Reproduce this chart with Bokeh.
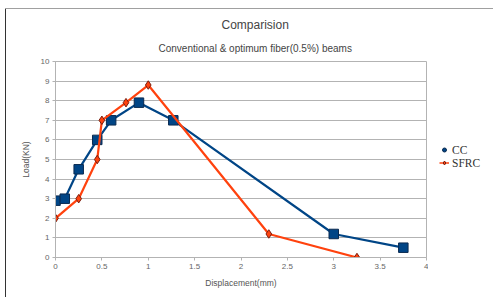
from bokeh.plotting import figure
from bokeh.models import Title, Legend, LegendItem, FixedTicker, Range1d
from bokeh.layouts import row
from bokeh.embed import file_html
from bokeh.resources import INLINE

# ---- data ----
cc_x = [0, 0.1, 0.25, 0.45, 0.6, 0.9, 1.27, 3.0, 3.75]
cc_y = [2.9, 3.0, 4.5, 6.0, 7.0, 7.9, 7.0, 1.2, 0.5]
sfrc_x = [0, 0.25, 0.45, 0.5, 0.76, 1.0, 2.3, 3.25]
sfrc_y = [2.0, 3.0, 5.0, 7.0, 7.9, 8.8, 1.2, 0.0]
x_ticks = [0, 0.5, 1, 1.5, 2, 2.5, 3, 3.5, 4]
x_tick_labels = ["0", "0.5", "1", "1.5", "2", "2.5", "3", "3.5", "4"]
y_ticks = [0, 1, 2, 3, 4, 5, 6, 7, 8, 9, 10]
series_names = ["CC", "SFRC"]
title_text = "Comparision"
subtitle_text = "Conventional & optimum fiber(0.5%) beams"

CC_COL = "#004586"
SF_COL = "#ff420e"
GRID = "#b3b3b3"
TXT = "#666666"
FONT = "Liberation Sans"

main_bg = ("linear-gradient(#a0a0a0,#a0a0a0) 5px 8px / 100% 1px no-repeat, "
           "linear-gradient(#333333,#333333) 5px 8px / 1px 100% no-repeat, white")
side_bg = "linear-gradient(#a0a0a0,#a0a0a0) 0px 8px / 100% 1px no-repeat, white"

p = figure(width=428, height=297, output_backend="svg", toolbar_location=None,
           x_range=Range1d(0, 4), y_range=Range1d(0, 10),
           min_border_left=55, min_border_right=2, min_border_top=61, min_border_bottom=40,
           background_fill_color="white", border_fill_alpha=0,
           styles={"background": main_bg})
p.title = None

p.outline_line_color = GRID
p.xgrid.visible = False
p.ygrid.grid_line_color = GRID
p.ygrid.grid_line_width = 1

for ax in (p.xaxis[0], p.yaxis[0]):
    ax.axis_line_color = GRID
    ax.major_tick_line_color = GRID
    ax.minor_tick_line_color = None
    ax.major_tick_in = 0
    ax.major_tick_out = 3
    ax.major_label_text_font = FONT
    ax.major_label_text_font_size = "8px"
    ax.major_label_text_color = TXT
    ax.axis_label_text_font = FONT
    ax.axis_label_text_font_size = "8.5px"
    ax.axis_label_text_font_style = "normal"
    ax.axis_label_text_color = "#555555"
    ax.major_label_standoff = 3

p.xaxis[0].ticker = FixedTicker(ticks=x_ticks)
p.xaxis[0].major_label_overrides = {t: l for t, l in zip(x_ticks, x_tick_labels)}
p.xaxis[0].axis_label = "Displacement(mm)"
p.xaxis[0].axis_label_standoff = 6
p.yaxis[0].ticker = FixedTicker(ticks=y_ticks)
p.yaxis[0].axis_label = "Load(KN)"
p.yaxis[0].axis_label_standoff = 7

# series
p.line(cc_x, cc_y, line_color=CC_COL, line_width=2.2)
p.scatter(cc_x, cc_y, marker="square", size=9.5, fill_color=CC_COL, line_color="#0a2a50", line_width=1)
p.line(sfrc_x, sfrc_y, line_color=SF_COL, line_width=2.2)
p.scatter(sfrc_x, sfrc_y, marker="diamond", size=8.5, fill_color=SF_COL, line_color="#7a1e0e", line_width=1)

p.add_layout(Title(text=subtitle_text, align="left", offset=103, standoff=15,
                   text_font=FONT, text_font_size="10px", text_font_style="normal",
                   text_color="#444444"), "above")
p.add_layout(Title(text=title_text, align="left", offset=166, standoff=4,
                   text_font=FONT, text_font_size="12px", text_font_style="normal",
                   text_color="#444444"), "above")

# ---- legend panel (series drawn off-view; only their legend glyphs show) ----
q = figure(width=65, height=297, output_backend="svg", toolbar_location=None,
           x_axis_location=None, y_axis_location=None,
           x_range=Range1d(-20, -19), y_range=Range1d(-20, -19),
           min_border_left=0, min_border_right=0, min_border_top=0, min_border_bottom=0,
           background_fill_alpha=0, border_fill_alpha=0,
           styles={"background": side_bg})
q.title = None
q.outline_line_color = None
q.grid.visible = False

lg_cc = q.scatter(cc_x, cc_y, marker="circle", size=6, fill_color=CC_COL, line_color="#0a2a50")
lg_sf_l = q.line(sfrc_x, sfrc_y, line_color=SF_COL, line_width=1.5)
lg_sf = q.scatter(sfrc_x, sfrc_y, marker="diamond", size=7, fill_color=SF_COL, line_color="#7a1e0e")

legend = Legend(items=[LegendItem(label=series_names[0], renderers=[lg_cc], index=0),
                       LegendItem(label=series_names[1], renderers=[lg_sf_l, lg_sf], index=0)],
                location=(11, 88), border_line_alpha=0, background_fill_alpha=0,
                padding=0, margin=0, spacing=0, label_height=13, glyph_height=13,
                glyph_width=10, label_standoff=3,
                label_text_font="Liberation Serif", label_text_font_size="11.5px",
                label_text_color="#333333")
q.add_layout(legend)

layout = row(p, q, spacing=0)
open("out.html", "w").write(file_html(layout, INLINE))
